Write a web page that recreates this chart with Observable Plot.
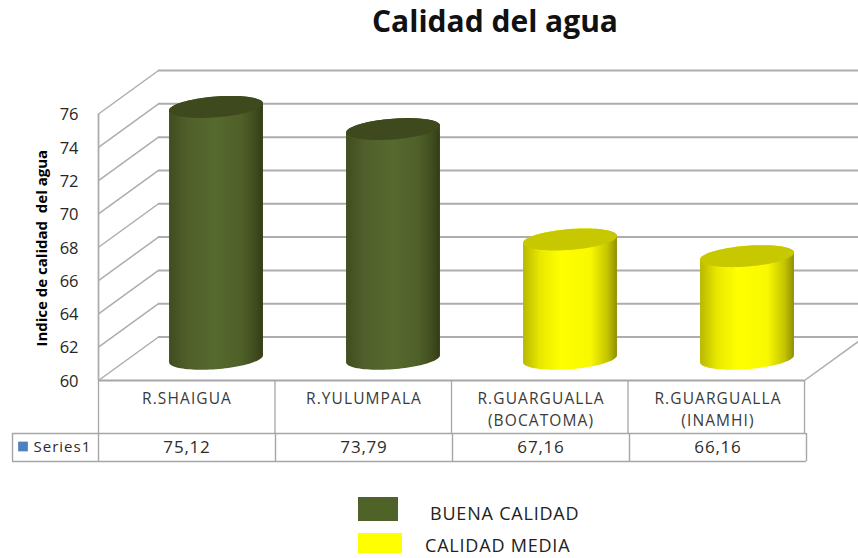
<!DOCTYPE html>
<html>
<head>
<meta charset="utf-8">
<script src="https://cdn.jsdelivr.net/npm/d3@7"></script>
<script src="https://cdn.jsdelivr.net/npm/@observablehq/plot@0.6"></script>
<style>
  html, body { margin: 0; padding: 0; background: #fff; }
  #page { position: relative; width: 858px; height: 558px; overflow: hidden; font-family: "Open Sans", sans-serif; color: #262626; }
  #title { position: absolute; left: 132px; width: 726px; top: 1px; text-align: center; font-size: 30px; font-weight: 700; color: #111; line-height: 40px; }
  #chart { position: absolute; left: 0; top: 60px; }
  .swatch { position: absolute; }
  .legend-label { position: absolute; font-size: 18px; letter-spacing: 0.8px; line-height: 22px; white-space: nowrap; color: #222; }
  .cat-label text, .cat-label tspan { letter-spacing: 1.1px; }
  .val-label text { letter-spacing: 0.8px; }
  .ser-label text { letter-spacing: 1px; }
</style>
</head>
<body>
<div id="page">
  <div id="title">Calidad del agua</div>
  <div id="chart"></div>
  <div class="swatch" style="left:358px;top:497px;width:40px;height:24px;background:#4f6228"></div>
  <div class="legend-label" style="left:430px;top:502px">BUENA CALIDAD</div>
  <div class="swatch" style="left:358px;top:533px;width:44px;height:20px;background:#ffff00"></div>
  <div class="legend-label" style="left:425px;top:534px">CALIDAD MEDIA</div>
</div>
<script>
// Data
const categories = ["R.SHAIGUA", "R.YULUMPALA", "R.GUARGUALLA\n(BOCATOMA)", "R.GUARGUALLA\n(INAMHI)"];
const values = [75.12, 73.79, 67.16, 66.16];
const valueLabels = ["75,12", "73,79", "67,16", "66,16"];
const quality = ["buena", "buena", "media", "media"];
const yTicks = [60, 62, 64, 66, 68, 70, 72, 74, 76];
const seriesName = "Series1";
const yTitle = "Indice de calidad  del agua";

// Layout of the oblique projection, in pixels
const width = 858, height = 410;
const marginLeft = 98, marginRight = 52, marginTop = 53.5, marginBottom = 90;
const pxX = (width - marginLeft - marginRight) / categories.length;
const pxY = (height - marginTop - marginBottom) / (76 - 60);
const depthX = 60 / pxX, depthY = 43.5 / pxY;        // wall depth in data units
const wallEnd = (width - marginLeft) / pxX;          // back wall runs off the page
const rowY = px => 60 - px / pxY;                    // pixels below the axis, in y units
const row1Stretch = 0.9972;                          // the upper table row is slightly narrower
const idx = categories.map((_, i) => i);
const grid = "#adadad", tableLine = "#a6a6a6";

// Cylinder outline
const radA = 44.5 / pxX, radB = 15 / pxX, radR = 11 / pxY;
const thetaR = Math.atan2(radB, radA);
const pt = (i, base, t) => ({
  x: i + 0.5 + (depthX - 2 / pxX) / 2 + radA * Math.cos(t) + radB * Math.sin(t),
  y: base + depthY / 2 + radR * Math.sin(t)
});
const arc = (i, base, from, to, n = 48) =>
  d3.range(n + 1).map(k => pt(i, base, from + (to - from) * k / n));

const bodyOutline = i => [
  ...arc(i, values[i], thetaR, thetaR + Math.PI),
  ...arc(i, 60, thetaR + Math.PI, thetaR + 2 * Math.PI)
];
const topOutline = i => arc(i, values[i], 0, 2 * Math.PI, 96);

const bodyFill = { buena: "url(#cylGreen)", media: "url(#cylYellow)" };
const topFill = { buena: "#3e4a1d", media: "#c8c800" };

const chart = Plot.plot({
  width, height, marginLeft, marginRight, marginTop, marginBottom,
  style: { fontFamily: "'Open Sans', sans-serif", background: "transparent", overflow: "visible" },
  x: { domain: [0, categories.length], axis: null },
  y: { domain: [60, 76], axis: null },
  marks: [
    // back wall gridlines
    Plot.ruleY(yTicks, { x1: depthX, x2: wallEnd, y: d => d + depthY, stroke: grid, strokeWidth: 2 }),
    // side wall diagonals
    Plot.link(yTicks, { x1: 0, y1: d => d, x2: depthX, y2: d => d + depthY, stroke: grid, strokeWidth: 1.5 }),
    // floor right edge
    Plot.link([60], { x1: row1Stretch * categories.length, y1: 60, x2: wallEnd, y2: 60 + depthY * (wallEnd - row1Stretch * categories.length) / depthX, stroke: grid, strokeWidth: 1.5 }),
    // side wall front edge
    Plot.ruleX([0], { y1: 60, y2: 76, stroke: grid, strokeWidth: 1.8 }),
    // cylinders
    ...idx.flatMap(i => [
      Plot.line(bodyOutline(i), { x: "x", y: "y", fill: bodyFill[quality[i]], stroke: "none" }),
      Plot.line(topOutline(i), { x: "x", y: "y", fill: topFill[quality[i]], stroke: "none" })
    ]),
    // data table
    Plot.ruleY([60], { x1: 0, x2: row1Stretch * categories.length, stroke: tableLine, strokeWidth: 1.8 }),
    Plot.ruleX(d3.range(categories.length + 1), { x: d => d * row1Stretch, y1: 60, y2: rowY(53), stroke: tableLine, strokeWidth: 1.3 }),
    Plot.ruleY([rowY(53), rowY(81)], { x1: -86 / pxX, x2: categories.length, stroke: tableLine, strokeWidth: 1.4 }),
    Plot.ruleX([-86 / pxX, ...d3.range(categories.length + 1)], { y1: rowY(53), y2: rowY(81), stroke: tableLine, strokeWidth: 1.4 }),
    Plot.text(categories, {
      x: (_, i) => i + 0.5, y: () => 60, dy: 7, lineAnchor: "top", lineHeight: 1.47,
      text: d => d, fontSize: 15.5, fill: "#3a3a3a", textAnchor: "middle", className: "cat-label"
    }),
    Plot.text(valueLabels, {
      x: (_, i) => i + 0.5, y: () => rowY(67), text: d => d, fontSize: 17, fill: "#2c2c2c", className: "val-label"
    }),
    Plot.dot([seriesName], { x: () => -75.5 / pxX, y: () => rowY(66), symbol: "square", r: 5.5, fill: "#4f81bd", stroke: "none" }),
    Plot.text([seriesName], { x: () => -65 / pxX, y: () => rowY(67), text: d => d, fontSize: 15, textAnchor: "start", fill: "#2c2c2c", className: "ser-label" }),
    // value axis
    Plot.axisY(yTicks, { anchor: "left", tickSize: 0, tickPadding: 20, fontSize: 16.5, label: null, fill: "#262626", dy: 1 }),
    Plot.text([yTitle], { x: () => -56 / pxX, y: () => 68, dy: 1, text: d => d, rotate: -90, fontSize: 15, fontWeight: 700, fill: "#000" })
  ]
});

// Cylinder shading
const defs = d3.create("svg:defs");
const gradient = (id, stops) => {
  const g = defs.append("linearGradient").attr("id", id).attr("x1", 0).attr("x2", 1).attr("y1", 0).attr("y2", 0);
  stops.forEach(([o, c]) => g.append("stop").attr("offset", o).attr("stop-color", c));
};
gradient("cylGreen", [[0, "#404d20"], [0.2, "#505f2b"], [0.5, "#56692e"], [0.78, "#4f5f28"], [0.93, "#3e4a1d"], [1, "#323c16"]]);
gradient("cylYellow", [[0, "#b8b800"], [0.18, "#e8e800"], [0.4, "#ffff00"], [0.72, "#f8f800"], [0.9, "#c4c400"], [1, "#8f8f00"]]);
chart.insertBefore(defs.node(), chart.firstChild);
document.getElementById("chart").appendChild(chart);
</script>
</body>
</html>
